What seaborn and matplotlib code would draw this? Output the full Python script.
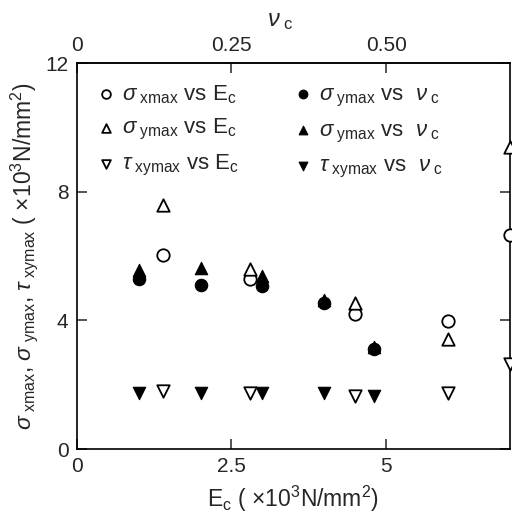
import numpy as np
import pandas as pd
import seaborn as sns
import matplotlib.pyplot as plt

sns.set_theme(style='ticks')
plt.rcParams['font.family'] = ['Liberation Sans', 'DejaVu Sans']
plt.rcParams['mathtext.fontset'] = 'custom'
plt.rcParams['mathtext.rm'] = 'Liberation Sans'
plt.rcParams['mathtext.it'] = 'Liberation Sans:italic'
plt.rcParams['mathtext.bf'] = 'Liberation Sans:bold'

# data (x in E_c units, nu_c plotted as 10*nu)
E_c = [1.4, 2.8, 4.5, 6.0, 7.0]
sx_vs_E = [6.04, 5.29, 4.19, 3.99, 6.65]
sy_vs_E = [7.58, 5.59, 4.53, 3.41, 9.40]
txy_vs_E = [1.81, 1.73, 1.65, 1.75, 2.66]

nu_c = [0.10, 0.20, 0.30, 0.40, 0.48]
sx_vs_nu = [5.28, 5.10, 5.07, 4.55, 3.10]
sy_vs_nu = [5.56, 5.63, 5.39, 4.63, 3.18]
txy_vs_nu = [1.73, 1.73, 1.73, 1.73, 1.65]

fig = plt.figure(figsize=(5.12, 5.21), dpi=100)
ax = fig.add_axes([0.150, 0.138, 0.846, 0.741])

nu_x = np.array(nu_c) * 10

series = [
    (E_c, sx_vs_E, 'o', False, r'$\sigma_{\rm\ xmax}$ vs E$_{\rm c}$'),
    (E_c, sy_vs_E, '^', False, r'$\sigma_{\rm\ ymax}$ vs E$_{\rm c}$'),
    (E_c, txy_vs_E, 'v', False, r'$\tau_{\rm\ xymax}$ vs E$_{\rm c}$'),
    (nu_x, sx_vs_nu, 'o', True, r'$\sigma_{\rm\ ymax}$ vs  $\nu_{\rm\ c}$'),
    (nu_x, sy_vs_nu, '^', True, r'$\sigma_{\rm\ ymax}$ vs  $\nu_{\rm\ c}$'),
    (nu_x, txy_vs_nu, 'v', True, r'$\tau_{\rm\ xymax}$ vs  $\nu_{\rm\ c}$'),
]

for x, y, m, filled, lab in series:
    if filled:
        sns.scatterplot(x=x, y=y, marker=m, s=80, color='black',
                        edgecolor='black', linewidth=0.8, label=lab,
                        ax=ax, clip_on=False, zorder=3)
    else:
        sns.scatterplot(x=x, y=y, marker=m, s=80, facecolor='white',
                        edgecolor='black', linewidth=1.3, label=lab,
                        ax=ax, clip_on=False, zorder=3)

ax.set_xlim(0, 7)
ax.set_ylim(0, 12)
ax.set_xticks([0, 2.5, 5])
ax.set_xticklabels(['0', '2.5', '5'])
ax.set_yticks([0, 4, 8, 12])
ax.tick_params(direction='in', length=7, width=1.1, labelsize=15,
               right=True, pad=6)
for s in ax.spines.values():
    s.set_linewidth(1.2)
    s.set_color('black')

sec = ax.secondary_xaxis('top', functions=(lambda v: v / 10, lambda v: v * 10))
sec.set_xticks([0, 0.25, 0.5])
sec.set_xticklabels(['0', '0.25', '0.50'])
sec.tick_params(direction='in', length=7, width=1.1, labelsize=15, pad=6)
sec.set_xlabel(r'$\nu_{\rm\ c}$', fontsize=17, labelpad=7, x=0.47)

ax.set_xlabel(r'E$_{\rm c}$ ( $\times$10$^3$N/mm$^2$)', fontsize=16.5, labelpad=5)
ax.set_ylabel(r'$\sigma_{\rm\ xmax}$, $\sigma_{\rm\ ymax}$, $\tau_{\rm\ xymax}$ ( $\times$10$^3$N/mm$^2$)',
              fontsize=16.5, labelpad=4)

ax.legend(ncol=2, frameon=False, loc='upper left', bbox_to_anchor=(0.01, 0.985),
          fontsize=16, handlelength=0.9, handletextpad=0.3, labelspacing=0.5,
          columnspacing=2.4, markerscale=0.7, borderpad=0.35,
          borderaxespad=0.3)

fig.savefig('out.png', dpi=100)
